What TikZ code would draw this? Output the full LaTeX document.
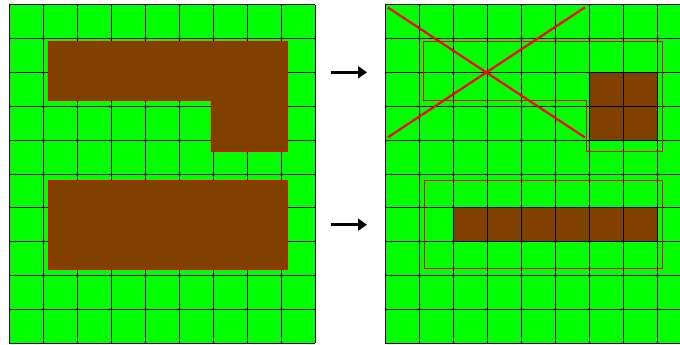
\documentclass[tikz,border=0pt]{standalone}
\usepackage{tikz}
\usetikzlibrary{arrows.meta}
\definecolor{grass}{RGB}{0, 255, 0}
\definecolor{soil}{RGB}{128, 64, 0}

\begin{document}
\begin{tikzpicture}[x=1pt, y=-1pt,
  gridline/.style={draw=black, line width=0.9pt},
  blob/.style={fill=soil, draw=red, line width=0.4pt},
  outline/.style={draw=red, line width=0.8pt},
  cross/.style={draw=red, line width=2.2pt},
  move/.style={-{Triangle[length=9pt, width=12pt]}, line width=2.8pt}
]
  \useasboundingbox (0,0) rectangle (680,345);
  \clip (0,0) rectangle (680,345);

  % left field: before
  \begin{scope}[shift={(9,4.7)}, x=34pt, y=-33.86pt]
    \fill[grass] (0,0) rectangle (9,10);
    \foreach \i in {0,...,9} \draw[gridline] (\i,0) -- (\i,10);
    \foreach \j in {0,...,10} \draw[gridline] (0,\j) -- (9,\j);
    \draw[blob] (1.14,1.08) -- (8.19,1.08) -- (8.19,4.33) -- (5.94,4.33) -- (5.94,2.83) -- (1.14,2.83) -- cycle;
    \draw[blob] (1.16,5.19) rectangle (8.19,7.80);
  \end{scope}

  % right field: after
  \begin{scope}[shift={(385,4.7)}, x=34pt, y=-33.86pt]
    \fill[grass] (0,0) rectangle (9,10);
    \fill[soil] (6,2) rectangle (8,4);
    \fill[soil] (2,6) rectangle (8,7);
    \foreach \i in {0,...,9} \draw[gridline] (\i,0) -- (\i,10);
    \foreach \j in {0,...,10} \draw[gridline] (0,\j) -- (9,\j);
    \draw[outline] (1.13,1.09) -- (8.16,1.09) -- (8.16,4.32) -- (5.93,4.32) -- (5.93,2.82) -- (1.13,2.82) -- cycle;
    \draw[outline] (1.16,5.19) rectangle (8.16,7.79);
    \draw[cross] (0.08,0.08) -- (5.88,3.92);
    \draw[cross] (0.08,3.92) -- (5.88,0.08);
  \end{scope}

  % arrows
  \coordinate (topfrom) at (331,72.3);
  \coordinate (topto) at (367,72.3);
  \coordinate (lowfrom) at (331,224.7);
  \coordinate (lowto) at (367,224.7);
  \draw[move] (topfrom) -- (topto);
  \draw[move] (lowfrom) -- (lowto);
\end{tikzpicture}
\end{document}
